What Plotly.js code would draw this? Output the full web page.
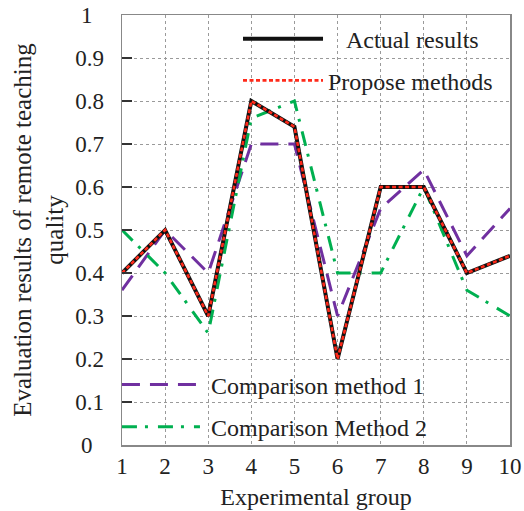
<!DOCTYPE html>
<html>
<head>
<meta charset="utf-8">
<script src="https://cdn.plot.ly/plotly-3.0.1.min.js"></script>
<style>html,body{margin:0;padding:0;background:#fff;}#chart{width:524px;height:511px;}</style>
</head>
<body>
<div id="chart"></div>
<script>
var groups = [1, 2, 3, 4, 5, 6, 7, 8, 9, 10];
var actualResults = [0.40, 0.50, 0.30, 0.80, 0.74, 0.20, 0.60, 0.60, 0.40, 0.44];
var proposeMethods = [0.40, 0.50, 0.30, 0.80, 0.74, 0.20, 0.60, 0.60, 0.40, 0.44];
var comparison1 = [0.36, 0.50, 0.40, 0.70, 0.70, 0.30, 0.55, 0.64, 0.44, 0.55];
var comparison2 = [0.50, 0.40, 0.26, 0.76, 0.80, 0.40, 0.40, 0.60, 0.36, 0.30];
var yTicks = [0, 0.1, 0.2, 0.3, 0.4, 0.5, 0.6, 0.7, 0.8, 0.9, 1];
var yTickLabels = ['0', '0.1', '0.2', '0.3', '0.4', '0.5', '0.6', '0.7', '0.8', '0.9', '1'];
var seriesNames = ['Actual results', 'Propose methods', 'Comparison method 1', 'Comparison Method 2'];

var FONT = 'Liberation Serif, Times New Roman, serif';
var NB = '\u00a0';
// pad single-character labels so they look centred like the reference
var yTickText = yTickLabels.map(function (t) { return t.length === 1 ? t + NB + NB : t; });

var traces = [
  {x: groups, y: comparison1, name: NB + seriesNames[2], mode: 'lines', legend: 'legend3',
   line: {color: '#7030A0', width: 3, dash: '18px,10px'}},
  {x: groups, y: comparison2, name: NB + seriesNames[3], mode: 'lines', legend: 'legend4',
   line: {color: '#00B050', width: 3, dash: '15px,8px,3px,10px'}},
  {x: groups, y: actualResults, name: NB + NB + NB + seriesNames[0], mode: 'lines', legend: 'legend',
   line: {color: '#111111', width: 4}},
  {x: groups, y: proposeMethods, name: seriesNames[1], mode: 'lines', legend: 'legend2',
   line: {color: '#FF2A1A', width: 2.6, dash: '4px,2.5px'}}
];

function leg(x, y, w) {
  return {
    x: x, y: y, xanchor: 'left', yanchor: 'middle',
    bgcolor: 'rgba(0,0,0,0)', borderwidth: 0,
    font: {family: FONT, size: 24, color: '#222'},
    itemwidth: w, tracegroupgap: 0
  };
}

var layout = {
  width: 524, height: 511,
  margin: {l: 122, r: 14, t: 15, b: 66, autoexpand: false},
  paper_bgcolor: '#ffffff', plot_bgcolor: '#ffffff',
  font: {family: FONT, size: 22, color: '#222222'},
  xaxis: {
    range: [1, 10], tickvals: groups, ticktext: groups.map(String), automargin: false,
    showgrid: true, gridcolor: '#9a9a9a', griddash: 'dot', gridwidth: 1,
    showline: true, linecolor: '#888888', linewidth: 1.5, mirror: true,
    ticks: '', zeroline: false,
    tickfont: {family: FONT, size: 23, color: '#222'},
    title: {text: 'Experimental group', font: {family: FONT, size: 24, color: '#222'}, standoff: 10}
  },
  yaxis: {
    range: [0, 1], tickvals: yTicks, ticktext: yTickText, automargin: false,
    showgrid: true, gridcolor: '#9a9a9a', griddash: 'dot', gridwidth: 1,
    showline: true, linecolor: '#888888', linewidth: 1.5, mirror: true,
    ticks: 'inside', ticklen: 10, tickcolor: '#333', tickwidth: 1.5,
    zeroline: false, ticklabelstandoff: 12,
    tickfont: {family: FONT, size: 23, color: '#222'},
    title: {text: 'Evaluation results of remote teaching<br>quality', font: {family: FONT, size: 25, color: '#222'}, standoff: 4}
  },
  legend: leg(0.299, 0.944, 80),
  legend2: leg(0.299, 0.847, 80),
  legend3: leg(-0.013, 0.1395, 78),
  legend4: leg(-0.013, 0.0415, 78),
  showlegend: true
};

Plotly.newPlot('chart', traces, layout, {staticPlot: true, displayModeBar: false});
</script>
</body>
</html>
